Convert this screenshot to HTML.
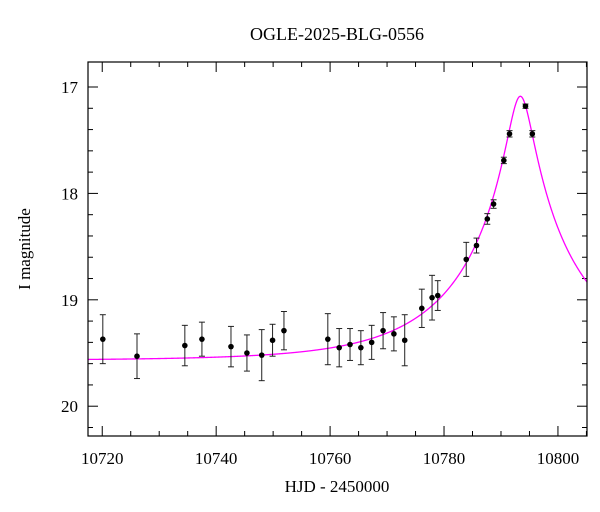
<!DOCTYPE html>
<html><head><meta charset="utf-8"><style>
body{margin:0;background:#fff}
svg{display:block;font-family:"Liberation Serif","DejaVu Serif",serif}
</style></head><body>
<svg id="chart" width="600" height="512" viewBox="0 0 600 512">
<text x="337" y="40" text-anchor="middle" font-size="18">OGLE-2025-BLG-0556</text>
<g id="ticks"></g>
<g id="model"></g>
<g id="points"></g>
<rect x="88" y="62" width="499" height="374" fill="none" stroke="#000" stroke-width="1.2"/>
<text x="337" y="492" text-anchor="middle" font-size="17">HJD - 2450000</text>
<text x="30" y="249" text-anchor="middle" font-size="17" transform="rotate(-90 30 249)">I magnitude</text>
</svg>
<script>
const times=[10720.1,10726.1,10734.5,10737.5,10742.6,10745.4,10748.0,10749.9,10751.9,10759.6,10761.6,10763.5,10765.4,10767.3,10769.3,10771.2,10773.1,10776.1,10777.9,10778.9,10783.9,10785.7,10787.6,10788.7,10790.5,10791.5,10794.3,10795.5];
const mags=[19.37,19.53,19.43,19.37,19.44,19.50,19.52,19.38,19.29,19.37,19.45,19.42,19.45,19.40,19.29,19.32,19.38,19.08,18.98,18.96,18.62,18.49,18.24,18.10,17.69,17.44,17.18,17.44];
const errs=[0.23,0.21,0.19,0.16,0.19,0.17,0.24,0.15,0.18,0.24,0.18,0.15,0.16,0.16,0.17,0.16,0.24,0.18,0.21,0.14,0.16,0.07,0.05,0.04,0.03,0.03,0.02,0.03];
const xTicks=[10720,10740,10760,10780,10800];
const yTicks=[17,18,19,20];
const modelParams={t0:10793.4,tE:21,u0:0.102,base:19.57};
const NS="http://www.w3.org/2000/svg";
const X0=88,X1=587,Y0=62,Y1=436,tMin=10717.5,tMax=10805.1,mMin=16.765,mMax=20.28;
function sx(t){return X0+(t-tMin)/(tMax-tMin)*(X1-X0);}
function sy(m){return Y0+(m-mMin)/(mMax-mMin)*(Y1-Y0);}
function mk(tag,attrs,parent){const e=document.createElementNS(NS,tag);for(const k in attrs)e.setAttribute(k,attrs[k]);parent.appendChild(e);return e;}
const tg=document.getElementById('ticks');
for(let t=10720;t<=tMax;t+=5){const maj=(t%20===0);const L=maj?10:5;const x=sx(t);
 let a=mk('line',{x1:x,x2:x,y1:Y1,y2:Y1-L,stroke:'#000'},tg);
 
 
 let b=mk('line',{x1:x,x2:x,y1:Y0,y2:Y0+L,stroke:'#000'},tg);
 
 }
for(let i=17*5;i<=20.2*5;i++){const m=i/5;const maj=(i%5===0);const L=maj?10:5;const y=sy(m);
 let a=mk('line',{x1:X0,x2:X0+L,y1:y,y2:y,stroke:'#000'},tg);
 
 
 let b=mk('line',{x1:X1,x2:X1-L,y1:y,y2:y,stroke:'#000'},tg);
 
 }
xTicks.forEach(t=>{const e=mk('text',{x:sx(t),y:464,'text-anchor':'middle','font-size':17},tg);e.textContent=t;
 
 });
yTicks.forEach(m=>{const e=mk('text',{x:78,y:sy(m)+6,'text-anchor':'end','font-size':17},tg);e.textContent=m;
 
 });
function amp(u){return (u*u+2)/(u*Math.sqrt(u*u+4));}
let d='';
for(let t=tMin;t<=tMax;t+=0.05){const u=Math.hypot(modelParams.u0,(t-modelParams.t0)/modelParams.tE);
 const m=modelParams.base-2.5*Math.log10(amp(u));d+=(d?'L':'M')+sx(t).toFixed(2)+','+sy(m).toFixed(2);}
const path=mk('path',{d:d,fill:'none',stroke:'#ff00ff','stroke-width':1.3},document.getElementById('model'));


const pg=document.getElementById('points');
times.forEach((t,i)=>{const x=sx(t),y=sy(mags[i]),ya=sy(mags[i]-errs[i]),yb=sy(mags[i]+errs[i]);
 const g=mk('g',{},pg);
 
 
 mk('line',{x1:x,x2:x,y1:ya,y2:yb,stroke:'#222','stroke-width':1},g);
 mk('line',{x1:x-3,x2:x+3,y1:ya,y2:ya,stroke:'#222','stroke-width':1},g);
 mk('line',{x1:x-3,x2:x+3,y1:yb,y2:yb,stroke:'#222','stroke-width':1},g);
 mk('circle',{cx:x,cy:y,r:2.8,fill:'#000'},g);});
</script>
</body></html>
